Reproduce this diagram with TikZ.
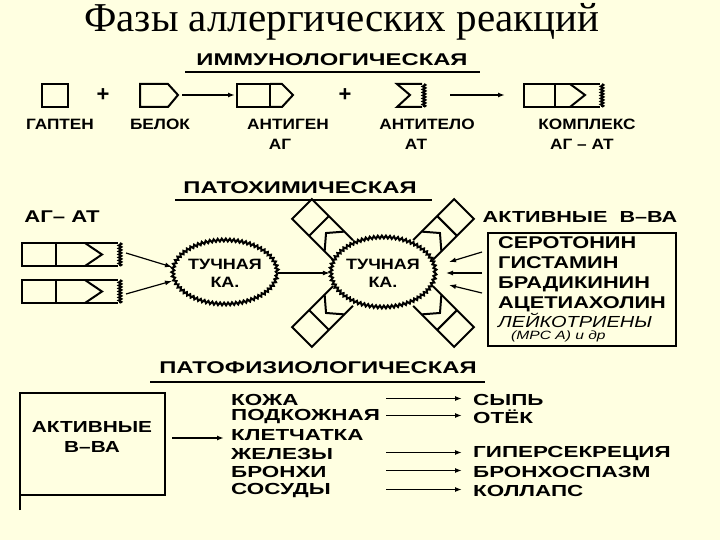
\documentclass[tikz,border=0pt]{standalone}
\usepackage{fontspec}
\setmainfont{Liberation Serif}
\newfontfamily\lab{Liberation Sans}
\usetikzlibrary{decorations.pathmorphing,arrows.meta,shapes.geometric}
\definecolor{bg}{RGB}{255,255,225}
\newcommand\sx[2][1.4]{\scalebox{#1}[1]{#2}}
\tikzset{
  x=1pt,y=-1pt,
  lbl/.style={font=\lab\bfseries\fontsize{15}{16}\selectfont,inner sep=1pt},
  hd/.style={font=\lab\bfseries\fontsize{17}{18}\selectfont,inner sep=1pt},
  big/.style={font=\lab\bfseries\fontsize{16}{18}\selectfont,inner sep=1pt},
  ln/.style={line width=2pt},
  arr/.style={line width=1.8pt,-{Latex[length=7pt,width=5pt]}},
  wav/.style={decorate,decoration={snake,amplitude=1.3pt,segment length=3pt}},
  cell/.style={draw,ln,decorate,decoration={snake,amplitude=1.4pt,segment length=4pt},ellipse,align=center,inner sep=0pt,font=\lab\bfseries\fontsize{15}{18}\selectfont}
}
\begin{document}
\begin{tikzpicture}
\useasboundingbox[fill=bg] (0,0) rectangle (720,540);
\node[font=\fontsize{41}{42}\selectfont] (title) at (342,22) {Фазы аллергических реакций};
% immunological
\node[hd] (h1) at (332,60) {\sx{ИММУНОЛОГИЧЕСКАЯ}};
\draw[ln] (185,72) -- (480,72);
\draw[ln] (42,84) rectangle (68,107);
\node[lbl,font=\lab\bfseries\fontsize{22}{22}\selectfont] (p1) at (103,95) {+};
\draw[ln] (168,84) -- (140,84) -- (140,107) -- (168,107) -- (178,95) -- cycle; \coordinate (bel) at (182,95);
\coordinate (agL) at (235,95);
\draw[arr] (bel) -- (agL);
\draw[ln] (237,84) rectangle (270,107);
\draw[ln] (270,84) -- (282,84) -- (293,95) -- (282,107) -- (270,107);
\node[lbl,font=\lab\bfseries\fontsize{22}{22}\selectfont] (p2) at (345,95) {+};
\draw[ln] (422,84) -- (397,84) -- (410,95) -- (397,107) -- (422,107);
\draw[ln,wav] (424,84) -- (424,107);
\coordinate (atR) at (450,95); \coordinate (kL) at (505,95);
\draw[arr] (atR) -- (kL);
\draw[ln] (524,84) rectangle (555,107);
\draw[ln] (555,84) -- (600,84) (555,107) -- (600,107);
\draw[ln] (570,84) -- (585,95) -- (570,107);
\draw[ln,wav] (602,84) -- (602,107);
\node[lbl] (l1) at (60,124) {\sx[1.15]{ГАПТЕН}};
\node[lbl] (l2) at (160,124) {\sx[1.15]{БЕЛОК}};
\node[lbl] (l3) at (288,124) {\sx[1.15]{АНТИГЕН}};
\node[lbl] (l4) at (427,124) {\sx[1.15]{АНТИТЕЛО}};
\node[lbl] (l5) at (587,124) {\sx[1.15]{КОМПЛЕКС}};
\node[lbl] (l3b) at (280,144) {\sx[1.15]{АГ}};
\node[lbl] (l4b) at (416,144) {\sx[1.15]{АТ}};
\node[lbl] (l5b) at (582,144) {\sx[1.15]{АГ – АТ}};
% pathochemical
\node[hd] (h2) at (300,188) {\sx{ПАТОХИМИЧЕСКАЯ}};
\draw[ln] (175,200) -- (432,200);
\node[hd] (agat) at (62,217) {\sx[1.3]{АГ– АТ}};
\draw[ln] (22,243) rectangle (56,266);
\draw[ln] (56,243) -- (118,243) (56,266) -- (118,266);
\draw[ln] (85,243) -- (102,254.5) -- (85,266);
\draw[ln,wav] (120,243) -- (120,266);
\draw[ln] (22,280) rectangle (56,303);
\draw[ln] (56,280) -- (118,280) (56,303) -- (118,303);
\draw[ln] (85,280) -- (102,291.5) -- (85,303);
\draw[ln,wav] (120,280) -- (120,303);
\node[cell,minimum width=100,minimum height=64] (c1) at (225,273) {\sx[1.2]{ТУЧНАЯ}\\\sx[1.2]{КА.}};
\node[cell,minimum width=104,minimum height=70] (c2) at (383,273) {\sx[1.2]{ТУЧНАЯ}\\\sx[1.2]{КА.}};
\draw[arr,line width=1.2pt] (126,253) -- (172,267);
\draw[arr,line width=1.2pt] (126,294) -- (172,281);
\draw[arr,line width=1.2pt] (c1) -- (c2);
% receptors
\foreach \ang/\px/\py in {135/343/250, 45/423/250, -135/343/296, -45/423/296}{
  \begin{scope}[shift={(\px,\py)},rotate=\ang]
    \draw[ln] (0,-14) -- (58,-14) -- (58,14) -- (0,14);
    \draw[ln] (34,-14) -- (34,14);
    \draw[ln] (12,-14) -- (24,0) -- (12,14);
  \end{scope}
}
\node[big] (akt) at (580,217) {\sx[1.35]{АКТИВНЫЕ\ \ В–ВА}};
\node[draw,ln,minimum width=188,minimum height=113,anchor=north west] (box) at (487,232) {};
\node[anchor=west,align=left,font=\lab\bfseries\fontsize{17}{20}\selectfont,inner sep=1pt] (subs) at (497,274) {\sx[1.28]{СЕРОТОНИН}\\\sx[1.28]{ГИСТАМИН}\\\sx[1.28]{БРАДИКИНИН}\\\sx[1.28]{АЦЕТИАХОЛИН}};
\node[anchor=west,font=\lab\itshape\fontsize{16}{16}\selectfont,inner sep=1pt] (leu) at (497,320) {\sx[1.25]{ЛЕЙКОТРИЕНЫ}};
\node[anchor=west,font=\lab\itshape\fontsize{12}{12}\selectfont,inner sep=1pt] (mrs) at (510,336) {\sx[1.3]{(МРС А) и др}};
\draw[arr,line width=1.2pt] (482,252) -- (449,262);
\draw[arr,line width=1.2pt] (482,273) -- (446,273);
\draw[arr,line width=1.2pt] (482,293) -- (449,285);
% pathophysiological
\node[hd] (h3) at (318,368) {\sx{ПАТОФИЗИОЛОГИЧЕСКАЯ}};
\draw[ln] (150,382) -- (485,382);
\draw[ln] (20,510) -- (20,393) -- (165,393) -- (165,495) -- (20,495);
\node[align=center,font=\lab\bfseries\fontsize{16}{20}\selectfont] (ab) at (92,437) {\sx[1.3]{АКТИВНЫЕ}\\\sx[1.3]{В–ВА}};
\coordinate (abR) at (172,438); \coordinate (lstL) at (224,438);
\draw[arr] (abR) -- (lstL);
\foreach \t/\y/\n in {КОЖА/400/a,ПОДКОЖНАЯ/417/b,КЛЕТЧАТКА/435/c,ЖЕЛЕЗЫ/454/d,БРОНХИ/472/e,СОСУДЫ/491/f}
  \node[big,anchor=west] (o\n) at (230,\y) {\sx{\t}};
\foreach \t/\y/\n in {СЫПЬ/400/a,ОТЁК/417/b,ГИПЕРСЕКРЕЦИЯ/454/d,БРОНХОСПАЗМ/472/e,КОЛЛАПС/491/f}{
  \node[big,anchor=west] (r\n) at (472,\y) {\sx{\t}};
  \draw[arr] ([yshift=1.5pt]386,\y) -- ([xshift=-10pt,yshift=1.5pt]r\n.west);
}
\end{tikzpicture}
\end{document}
